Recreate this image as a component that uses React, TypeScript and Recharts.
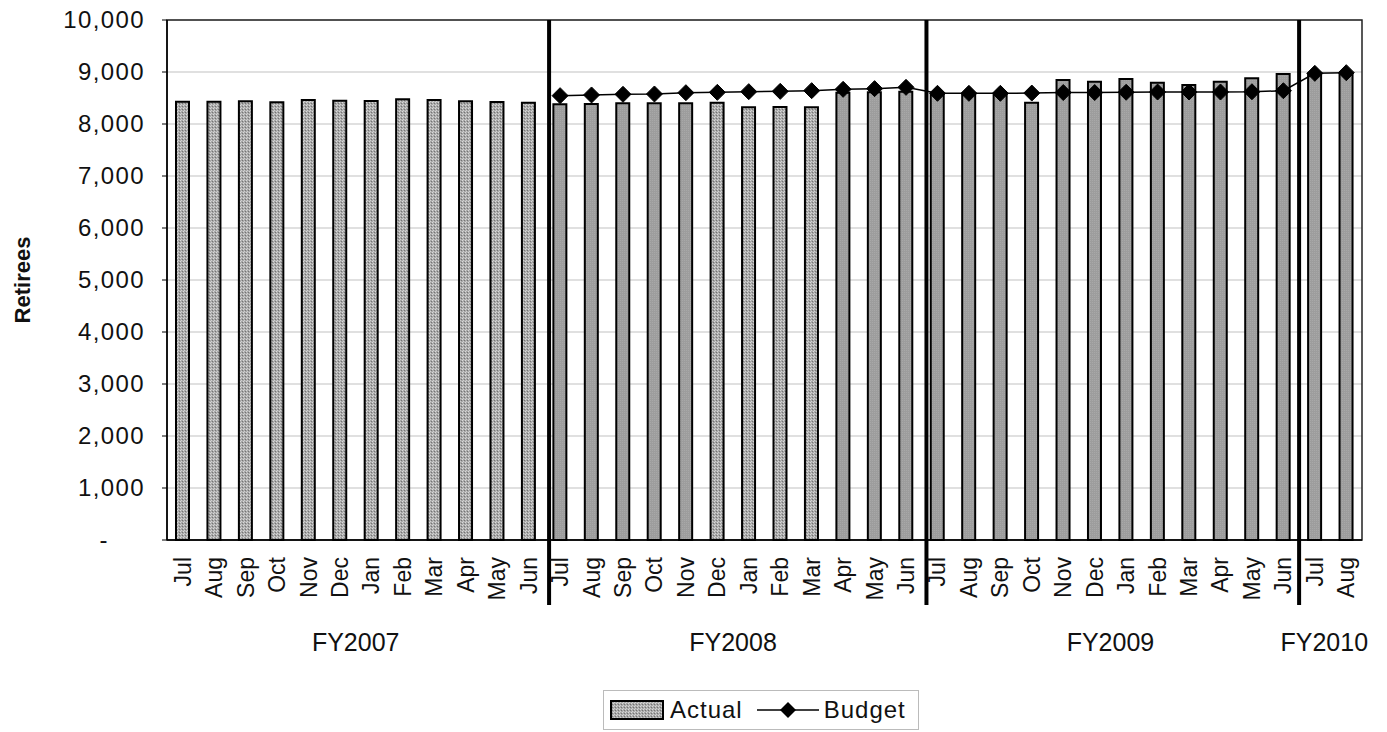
import React from 'react'
import {
  ComposedChart,
  Bar,
  Cell,
  Line,
  XAxis,
  YAxis,
  CartesianGrid,
  ReferenceLine,
  ReferenceArea,
  Legend,
} from 'recharts'

const months = [
  'Jul', 'Aug', 'Sep', 'Oct', 'Nov', 'Dec', 'Jan', 'Feb', 'Mar', 'Apr', 'May', 'Jun',
  'Jul', 'Aug', 'Sep', 'Oct', 'Nov', 'Dec', 'Jan', 'Feb', 'Mar', 'Apr', 'May', 'Jun',
  'Jul', 'Aug', 'Sep', 'Oct', 'Nov', 'Dec', 'Jan', 'Feb', 'Mar', 'Apr', 'May', 'Jun',
  'Jul', 'Aug',
]

const actual = [
  8429, 8429, 8436, 8417, 8462, 8448, 8442, 8475, 8462, 8436, 8423, 8410,
  8378, 8385, 8397, 8397, 8397, 8410, 8321, 8327, 8321, 8600, 8610, 8620,
  8560, 8560, 8560, 8410, 8846, 8814, 8865, 8795, 8750, 8814, 8878, 8962,
  8960, 8960,
]

const budget: (number | null)[] = [
  null, null, null, null, null, null, null, null, null, null, null, null,
  8545, 8558, 8571, 8577, 8602, 8609, 8622, 8628, 8641, 8667, 8680, 8705,
  8590, 8590, 8590, 8595, 8605, 8605, 8610, 8615, 8615, 8615, 8620, 8640,
  8974, 8987,
]

// positions on the index axis (category i sits at i)
const fiscalYears = ['FY2007', 'FY2008', 'FY2009', 'FY2010']
const fyTickPos = [5.5, 17.5, 29.5, 36.3]
// hand-drawn year dividers sit a little right of the category boundary
const yearBreaks = [11.65, 23.65, 35.5]
const yTicks = [0, 1000, 2000, 3000, 4000, 5000, 6000, 7000, 8000, 9000, 10000]

const data = months.map((m, i) => ({ idx: i, month: m, actual: actual[i], budget: budget[i] }))

const FONT = '"Liberation Sans", Arial, sans-serif'

// the scan shows two bar textures: speckled (FY2007, Dec-Mar FY2008) and flat grey
const isSpeckled = (i: number) => i < 12 || (i >= 17 && i <= 20)

const MonthTick = (props: any) => {
  const { x, y, payload } = props
  const px = x + 8
  const py = y
  return (
    <text
      x={px}
      y={py}
      transform={`rotate(-90, ${px}, ${py})`}
      textAnchor="end"
      fontSize={23}
      fontFamily={FONT}
      fill="#111"
    >
      {months[payload.value]}
    </text>
  )
}

const YTick = (props: any) => {
  const { x, y, payload } = props
  const v = payload.value
  return (
    <text
      x={v === 0 ? x - 36 : x}
      y={y + 8}
      textAnchor="end"
      fontSize={24}
      letterSpacing={1.4}
      fontFamily={FONT}
      fill="#111"
    >
      {v === 0 ? '-' : v.toLocaleString('en-US')}
    </text>
  )
}

const Diamond = (props: any) => {
  const { cx, cy, value } = props
  if (value == null || cx == null || cy == null) return null
  const r = 8
  return (
    <polygon
      points={`${cx},${cy - r} ${cx + r},${cy} ${cx},${cy + r} ${cx - r},${cy}`}
      fill="#000"
      stroke="#000"
    />
  )
}

const RetireesLabel = (props: any) => {
  const { viewBox } = props
  const x = 22
  const y = viewBox.y + viewBox.height / 2
  return (
    <text
      x={x}
      y={y}
      transform={`rotate(-90, ${x}, ${y})`}
      textAnchor="middle"
      dominantBaseline="central"
      fontSize={22}
      fontWeight="bold"
      fontFamily={FONT}
      fill="#111"
    >
      Retirees
    </text>
  )
}

const LegendBox = () => (
  <div
    style={{
      display: 'flex',
      alignItems: 'center',
      border: '1px solid #bbb',
      padding: '5px 12px 5px 6px',
      fontFamily: FONT,
      fontSize: 24,
      letterSpacing: 1,
      color: '#111',
      background: '#fff',
    }}
  >
    <svg width={54} height={20} style={{ marginRight: 6 }}>
      <rect x={1} y={1} width={52} height={18} fill="url(#speckled)" stroke="#000" strokeWidth={2} />
    </svg>
    <span style={{ marginRight: 14 }}>Actual</span>
    <svg width={62} height={20} style={{ marginRight: 5 }}>
      <line x1={0} y1={10} x2={62} y2={10} stroke="#000" strokeWidth={1.5} />
      <polygon points="31,2 39,10 31,18 23,10" fill="#000" />
    </svg>
    <span>Budget</span>
  </div>
)

export default function App() {
  return (
    <div style={{ position: 'absolute', left: 0, top: 0, background: '#fff' }}>
      <ComposedChart
        width={1387}
        height={732}
        data={data}
        margin={{ top: 20, right: 25, bottom: 2, left: 0 }}
      >
        <defs>
          <pattern id="speckled" width={3} height={3} patternUnits="userSpaceOnUse">
            <rect width={3} height={3} fill="#a9a9a9" />
            <rect x={0} y={0} width={1} height={1} fill="#dadada" />
            <rect x={2} y={1} width={1} height={1} fill="#747474" />
            <rect x={1} y={2} width={1} height={1} fill="#d0d0d0" />
          </pattern>
          <pattern id="flat" width={2} height={2} patternUnits="userSpaceOnUse">
            <rect width={2} height={2} fill="#9d9d9d" />
            <rect x={0} y={0} width={1} height={1} fill="#a8a8a8" />
          </pattern>
        </defs>
        <CartesianGrid vertical={false} stroke="#d6d6d6" strokeWidth={1.5} />
        <XAxis
          xAxisId="b"
          dataKey="idx"
          type="number"
          domain={[-0.5, 37.5]}
          allowDataOverflow
          ticks={fyTickPos}
          interval={0}
          tickFormatter={(v: number) => fiscalYears[fyTickPos.indexOf(v)]}
          height={75}
          axisLine={false}
          tickLine={false}
          tickMargin={12}
          tick={{ fontSize: 25, fontFamily: FONT, fill: '#111' }}
        />
        <XAxis
          xAxisId="a"
          dataKey="idx"
          type="category"
          interval={0}
          height={75}
          tickLine={false}
          axisLine={{ stroke: '#000', strokeWidth: 1.5 }}
          tick={<MonthTick />}
          tickMargin={11}
        />
        <YAxis
          domain={[0, 10000]}
          ticks={yTicks}
          width={167}
          interval={0}
          axisLine={{ stroke: '#000', strokeWidth: 1.5 }}
          tickLine={{ stroke: '#000' }}
          tickSize={5}
          tickMargin={17}
          tick={<YTick />}
          label={<RetireesLabel />}
        />
        <ReferenceArea
          xAxisId="b"
          x1={-0.5}
          x2={37.5}
          y1={0}
          y2={10000}
          fill="none"
          fillOpacity={0}
          stroke="#222"
          strokeWidth={1.5}
          ifOverflow="visible"
        />
        <Bar
          xAxisId="a"
          dataKey="actual"
          name="Actual"
          fill="url(#speckled)"
          stroke="#000"
          strokeWidth={2}
          barSize={13}
          isAnimationActive={false}
        >
          {data.map((d, i) => (
            <Cell key={i} fill={isSpeckled(i) ? 'url(#speckled)' : 'url(#flat)'} />
          ))}
        </Bar>
        <Line
          xAxisId="a"
          dataKey="budget"
          name="Budget"
          stroke="#000"
          strokeWidth={1.5}
          dot={<Diamond />}
          activeDot={false}
          connectNulls={false}
          isAnimationActive={false}
        />
        {yearBreaks.map(b => (
          <ReferenceLine
            key={b}
            xAxisId="b"
            segment={[{ x: b, y: -1250 }, { x: b, y: 10000 }]}
            stroke="#000"
            strokeWidth={4}
            ifOverflow="visible"
          />
        ))}
        <Legend
          verticalAlign="bottom"
          content={<LegendBox />}
          wrapperStyle={{ left: 603, bottom: 2, width: 'auto' }}
        />
      </ComposedChart>
    </div>
  )
}
